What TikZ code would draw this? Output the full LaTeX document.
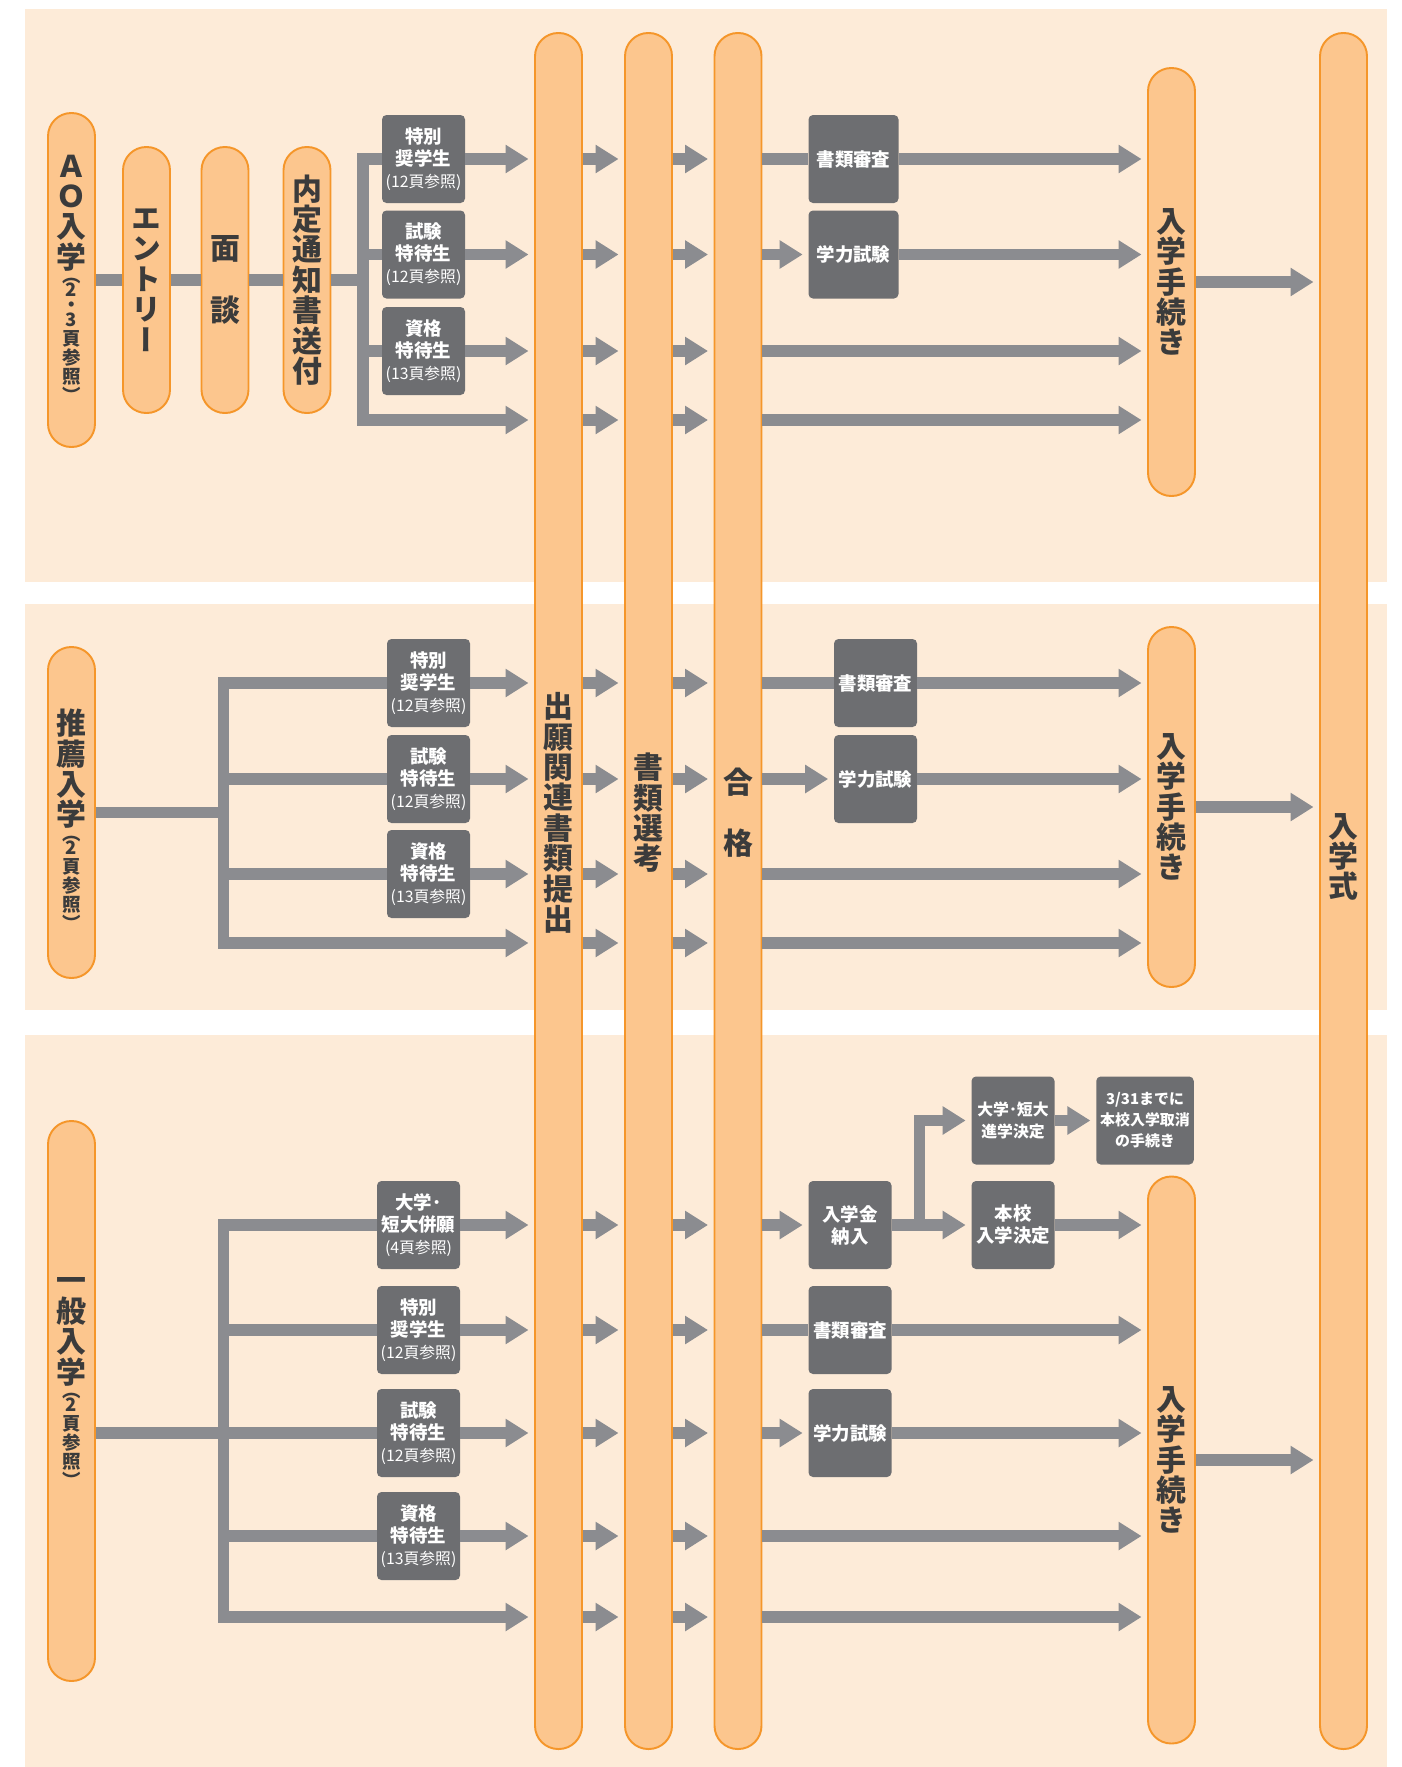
\documentclass[tikz,border=0pt]{standalone}
\usepackage{fontspec}
\setmainfont{Noto Sans CJK JP}
\newfontfamily\tatefont{Noto Sans CJK JP}[RawFeature={+vert}]
\usetikzlibrary{arrows.meta,positioning}

\definecolor{panelbg}{HTML}{FDEBD8}
\definecolor{capfill}{HTML}{FCC68E}
\definecolor{capline}{HTML}{F5962A}
\definecolor{boxgray}{HTML}{6D6E71}
\definecolor{flowgray}{HTML}{8B8C90}
\definecolor{captext}{HTML}{3B3B3B}

\newcommand\tightlines{\lineskiplimit-50pt\relax}
\newcommand\bigtate{\tatefont\bfseries\fontsize{17}{17.3}\selectfont\tightlines}
\newcommand\smalltate{\tatefont\bfseries\fontsize{10.5}{10.8}\selectfont\tightlines}
\newcommand\boxfont{\bfseries\fontsize{10.5}{12.5}\selectfont\tightlines}

\tikzset{
  capsule/.style={draw=capline,fill=capfill,line width=1.1pt,
    rounded corners=4.65mm,minimum width=9.4mm,inner sep=0pt,
    text=captext,align=center,font=\bigtate},
  captxt/.style={text=captext,align=center,inner sep=0pt,font=\bigtate},
  capnote/.style={captxt,font=\smalltate},
  graybox/.style={fill=boxgray,rounded corners=0.9mm,minimum width=16.6mm,
    minimum height=17.6mm,inner sep=0pt,text=white,align=center,
    font=\boxfont},
  flow/.style={draw=flowgray,line width=6.3pt},
  flowarrow/.style={flow,-{Triangle[length=4.6mm,width=5.4mm]},shorten >=1.1mm},
}
\newcommand\jref[1]{{\mdseries\fontsize{9}{10}\selectfont(#1頁参照)}}

\begin{document}
\begin{tikzpicture}[x=0.2mm,y=-0.2mm]
\useasboundingbox (0,0) rectangle (1401,1767);

% panels
\fill[panelbg] (25,9) rectangle (1387,582);
\fill[panelbg] (25,604) rectangle (1387,1010);
\fill[panelbg] (25,1035) rectangle (1387,1767);

% long capsules
\node[capsule,minimum height=343.2mm] (apply) at (558.5,891) {};
\node[capsule,minimum height=343.2mm] (screen) at (648.5,891) {};
\node[capsule,minimum height=343.2mm] (pass) at (738,891) {};
\node[capsule,minimum height=343.2mm] (ceremony) at (1343.5,891) {};
\node[captxt] (applyTxt) at (558.5,813) {出\\願\\関\\連\\書\\類\\提\\出};
\node[captxt] (screenTxt) at (648.5,813) {書\\類\\選\\考};
\node[captxt] (passTxt) at (738,813) {合\\[17.5pt]格};
\node[captxt] (ceremonyTxt) at (1343.5,857) {入\\学\\式};

% AO
\node[capsule,minimum height=66.8mm] (ao) at (71.5,280) {};
\node[captxt] (aoTxt) at (71.5,213) {Ａ\\Ｏ\\入\\学};
\node[capnote,below=3.5pt of aoTxt] (aoNote) {（\\[-2.5pt]2\\[-2.5pt]・\\[-2.5pt]3\\頁\\参\\照\\）};
\node[capsule,minimum height=53.2mm] (entry) at (146.5,280) {エ\\ン\\ト\\リ\\ー};
\node[capsule,minimum height=53.2mm] (interview) at (225,280) {面\\[17.5pt]談};
\node[capsule,minimum height=53.2mm] (notice) at (307,280) {内\\定\\通\\知\\書\\送\\付};
\node[capsule,minimum height=85.6mm] (proc1) at (1171.5,282) {入\\学\\手\\続\\き};

\node[graybox] (aoSp) at (423.5,159) {特別\\奨学生\\\jref{12}};
\node[graybox] (aoEx) at (423.5,254.5) {試験\\特待生\\\jref{12}};
\node[graybox] (aoQu) at (423.5,351) {資格\\特待生\\\jref{13}};
\node[graybox,minimum width=18mm] (aoDoc) at (853.5,159) {書類審査};
\node[graybox,minimum width=18mm] (aoExm) at (853.5,254.5) {学力試験};

\coordinate (ao1) at (363,159);
\coordinate (ao2) at (363,254.5);
\coordinate (ao3) at (363,351);
\coordinate (ao4) at (363,420);

% suisen
\node[capsule,minimum height=66.2mm] (suisen) at (71.5,812.5) {};
\node[captxt] (suisenTxt) at (71.5,769) {推\\薦\\入\\学};
\node[capnote,below=3.5pt of suisenTxt] (suisenNote) {（\\[-2.5pt]2\\頁\\参\\照\\）};
\node[capsule,minimum height=72mm] (proc2) at (1171.5,807) {入\\学\\手\\続\\き};

\node[graybox] (suSp) at (428.5,683) {特別\\奨学生\\\jref{12}};
\node[graybox] (suEx) at (428.5,779) {試験\\特待生\\\jref{12}};
\node[graybox] (suQu) at (428.5,874) {資格\\特待生\\\jref{13}};
\node[graybox] (suDoc) at (875.5,683) {書類審査};
\node[graybox] (suExm) at (875.5,779) {学力試験};

\coordinate (su1) at (223.5,683);
\coordinate (su2) at (223.5,779);
\coordinate (su3) at (223.5,874);
\coordinate (su4) at (223.5,943);

% ippan
\node[capsule,minimum height=112mm] (ippan) at (71.5,1401) {};
\node[captxt] (ippanTxt) at (71.5,1332) {一\\般\\入\\学};
\node[capnote,below=3.5pt of ippanTxt] (ippanNote) {（\\[-2.5pt]2\\頁\\参\\照\\）};
\node[capsule,minimum height=113.4mm] (proc3) at (1171.5,1460) {入\\学\\手\\続\\き};

\node[graybox] (ipJo) at (418.5,1225) {大学･\\短大併願\\\jref{4}};
\node[graybox] (ipSp) at (418.5,1330) {特別\\奨学生\\\jref{12}};
\node[graybox] (ipEx) at (418.5,1433) {試験\\特待生\\\jref{12}};
\node[graybox] (ipQu) at (418.5,1536) {資格\\特待生\\\jref{13}};
\node[graybox] (fee) at (850,1225) {入学金\\納入};
\node[graybox] (ipDoc) at (850,1330) {書類審査};
\node[graybox] (ipExm) at (850,1433) {学力試験};
\node[graybox,font=\bfseries\fontsize{9}{12}\selectfont] (univ) at (1013,1120.5) {大学･短大\\進学決定};
\node[graybox,minimum width=19.5mm,font=\bfseries\fontsize{8.5}{12}\selectfont] (cancel) at (1145,1120.5) {3/31までに\\本校入学取消\\の手続き};
\node[graybox] (honko) at (1013,1225) {本校\\入学決定};

\coordinate (ip1) at (223.5,1225);
\coordinate (ip2) at (223.5,1330);
\coordinate (ip3) at (223.5,1433);
\coordinate (ip4) at (223.5,1536);
\coordinate (ip5) at (223.5,1617);
\coordinate (split) at (919.5,1225);

% AO flow
\draw[flow] (ao) -- (entry);
\draw[flow] (entry) -- (interview);
\draw[flow] (interview) -- (notice);
\draw[flow] (notice) -- (notice -| ao1);
\draw[flow,line cap=rect] (ao1) -- (ao4);
\foreach \r/\b in {ao1/aoSp,ao2/aoEx,ao3/aoQu}{
  \draw[flow] (\r) -- (\b);
  \draw[flowarrow] (\b) -- (apply.west |- \b);
}
\draw[flowarrow] (ao4) -- (apply.west |- ao4);
\draw[flow] (pass.east |- aoDoc) -- (aoDoc);
\draw[flowarrow] (aoDoc) -- (proc1.west |- aoDoc);
\draw[flowarrow] (pass.east |- aoExm) -- (aoExm);
\draw[flowarrow] (aoExm) -- (proc1.west |- aoExm);
\draw[flowarrow] (pass.east |- ao3) -- (proc1.west |- ao3);
\draw[flowarrow] (pass.east |- ao4) -- (proc1.west |- ao4);
\draw[flowarrow] (proc1) -- (proc1 -| ceremony.west);

% suisen flow
\draw[flow] (suisen) -- (suisen -| su1);
\draw[flow,line cap=rect] (su1) -- (su4);
\foreach \r/\b in {su1/suSp,su2/suEx,su3/suQu}{
  \draw[flow] (\r) -- (\b);
  \draw[flowarrow] (\b) -- (apply.west |- \b);
}
\draw[flowarrow] (su4) -- (apply.west |- su4);
\draw[flow] (pass.east |- suDoc) -- (suDoc);
\draw[flowarrow] (suDoc) -- (proc2.west |- suDoc);
\draw[flowarrow] (pass.east |- suExm) -- (suExm);
\draw[flowarrow] (suExm) -- (proc2.west |- suExm);
\draw[flowarrow] (pass.east |- su3) -- (proc2.west |- su3);
\draw[flowarrow] (pass.east |- su4) -- (proc2.west |- su4);
\draw[flowarrow] (proc2) -- (proc2 -| ceremony.west);

% ippan flow
\draw[flow] (ippan.east |- ip3) -- (ip3);
\draw[flow,line cap=rect] (ip1) -- (ip5);
\foreach \r/\b in {ip1/ipJo,ip2/ipSp,ip3/ipEx,ip4/ipQu}{
  \draw[flow] (\r) -- (\b);
  \draw[flowarrow] (\b) -- (apply.west |- \b);
}
\draw[flowarrow] (ip5) -- (apply.west |- ip5);
\draw[flowarrow] (pass.east |- fee) -- (fee);
\draw[flowarrow] (fee) -- (honko);
\draw[flowarrow] (split) |- (univ);
\draw[flowarrow] (univ) -- (cancel);
\draw[flowarrow] (honko) -- (proc3.west |- honko);
\draw[flow] (pass.east |- ipDoc) -- (ipDoc);
\draw[flowarrow] (ipDoc) -- (proc3.west |- ipDoc);
\draw[flowarrow] (pass.east |- ipExm) -- (ipExm);
\draw[flowarrow] (ipExm) -- (proc3.west |- ipExm);
\draw[flowarrow] (pass.east |- ip4) -- (proc3.west |- ip4);
\draw[flowarrow] (pass.east |- ip5) -- (proc3.west |- ip5);
\draw[flowarrow] (proc3) -- (proc3 -| ceremony.west);

% short arrows between the long capsules
\foreach \r in {ao1,ao2,ao3,ao4,su1,su2,su3,su4,ip1,ip2,ip3,ip4,ip5}{
  \draw[flowarrow] (apply.east |- \r) -- (screen.west |- \r);
  \draw[flowarrow] (screen.east |- \r) -- (pass.west |- \r);
}
\end{tikzpicture}
\end{document}
